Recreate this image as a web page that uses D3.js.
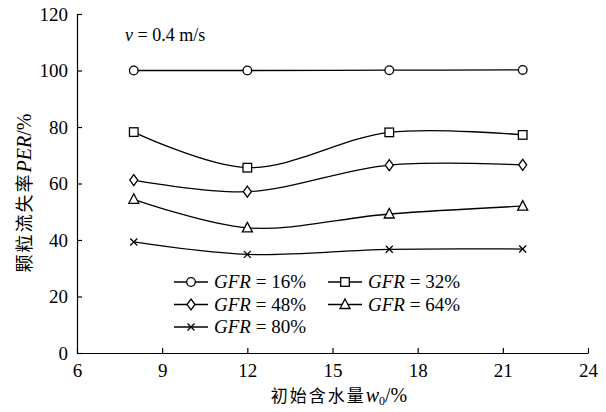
<!DOCTYPE html>
<html>
<head>
<meta charset="utf-8">
<script src="https://cdn.jsdelivr.net/npm/d3@7"></script>
<style>
  body { margin: 0; background: #fff; }
  .axis path, .axis line { stroke: #000; stroke-width: 1.2; }
</style>
</head>
<body>
<div id="chart"></div>
<script>
        var xValues = [8, 12, 17, 21.7];
        var gfr16 = [100, 100, 100.1, 100.2];
        var gfr32 = [78.2, 65.6, 78.1, 77.2];
        var gfr48 = [61.2, 57.1, 66.5, 66.6];
        var gfr64 = [54.4, 44.3, 49.2, 52.0];
        var gfr80 = [39.3, 34.9, 36.7, 36.8];
        var seriesNames = ["16%", "32%", "48%", "64%", "80%"];
        var xTicks = [6, 9, 12, 15, 18, 21, 24];
        var yTicks = [0, 20, 40, 60, 80, 100, 120];

        var serif = "'Liberation Serif', 'Times New Roman', serif";
        var cjk = "'Noto Sans CJK SC', sans-serif";

        var width = 606;
        var height = 412;
        var margin = {left: 77, top: 14, right: 18, bottom: 59};

        var svg = d3.select("#chart")
                    .append("svg")
                    .attr("width", width)
                    .attr("height", height)
                    .style("font-family", serif);

        var x = d3.scaleLinear().domain([6, 24]).range([margin.left, width - margin.right]);
        var y = d3.scaleLinear().domain([0, 120]).range([height - margin.bottom, margin.top]);

        var series = [
            {name: seriesNames[0], values: gfr16, marker: "circle"},
            {name: seriesNames[1], values: gfr32, marker: "square"},
            {name: seriesNames[2], values: gfr48, marker: "diamond"},
            {name: seriesNames[3], values: gfr64, marker: "triangle"},
            {name: seriesNames[4], values: gfr80, marker: "cross"}
        ];

        function styleTicks(g){
            g.attr("font-family", null).attr("font-size", null);
            g.selectAll("text")
                .style("font-family", serif)
                .style("font-size", "19px")
                .attr("fill", "#000");
        }

        // axes with inward ticks
        svg.append("g")
            .attr("class", "axis")
            .attr("transform", "translate(0," + y(0) + ")")
            .call(d3.axisBottom(x).tickValues(xTicks).tickSizeInner(-5).tickSizeOuter(0).tickPadding(11))
            .call(styleTicks);

        svg.append("g")
            .attr("class", "axis")
            .attr("transform", "translate(" + x(6) + ",0)")
            .call(d3.axisLeft(y).tickValues(yTicks).tickSizeInner(-5).tickSizeOuter(0).tickPadding(9))
            .call(styleTicks);

        var line = d3.line()
            .x(function(d, i){ return x(xValues[i]); })
            .y(function(d){ return y(d); })
            .curve(d3.curveCatmullRom.alpha(0.5));

        function drawMarker(g, type, cx, cy) {
            var m;
            if (type == "circle") {
                m = g.append("circle").attr("cx", cx).attr("cy", cy).attr("r", 4.3);
            } else if (type == "square") {
                m = g.append("rect").attr("x", cx - 4.3).attr("y", cy - 4.3).attr("width", 8.6).attr("height", 8.6);
            } else if (type == "diamond") {
                m = g.append("path").attr("d", "M" + cx + "," + (cy - 5.5) + "L" + (cx + 4) + "," + cy + "L" + cx + "," + (cy + 5.5) + "L" + (cx - 4) + "," + cy + "Z");
            } else if (type == "triangle") {
                m = g.append("path").attr("d", "M" + cx + "," + (cy - 5.5) + "L" + (cx + 5) + "," + (cy + 4) + "L" + (cx - 5) + "," + (cy + 4) + "Z");
            } else {
                m = g.append("path").attr("d", "M" + (cx - 3.5) + "," + (cy - 3.5) + "L" + (cx + 3.5) + "," + (cy + 3.5) + "M" + (cx + 3.5) + "," + (cy - 3.5) + "L" + (cx - 3.5) + "," + (cy + 3.5));
            }
            m.attr("fill", "#fff").attr("stroke", "#000").attr("stroke-width", 1.3);
        }

        var plot = svg.append("g");
        series.forEach(function(s){
            plot.append("path")
                .attr("d", line(s.values))
                .attr("fill", "none")
                .attr("stroke", "#000")
                .attr("stroke-width", 1.3);
            s.values.forEach(function(v, i){
                drawMarker(plot, s.marker, x(xValues[i]), y(v));
            });
        });

        // legend
        var legendPos = [
            [174, 282], [328, 282],
            [174, 304.5], [328, 304.5],
            [174, 327]
        ];
        var legend = svg.append("g");
        series.forEach(function(s, i){
            var lx = legendPos[i][0], ly = legendPos[i][1];
            legend.append("line")
                .attr("x1", lx).attr("x2", lx + 34)
                .attr("y1", ly).attr("y2", ly)
                .attr("stroke", "#000").attr("stroke-width", 1.3);
            drawMarker(legend, s.marker, lx + 17, ly);
            var t = legend.append("text")
                .attr("x", lx + 40).attr("y", ly + 6)
                .style("font-size", "19px");
            t.append("tspan").style("font-style", "italic").text("GFR");
            t.append("tspan").text(" = " + s.name);
        });

        // speed annotation
        var ann = svg.append("text").attr("x", 125).attr("y", 41).style("font-size", "18px");
        ann.append("tspan").style("font-style", "italic").text("v");
        ann.append("tspan").text(" = 0.4 m/s");

        // axis titles
        var xt = svg.append("text")
            .attr("x", 339).attr("y", 402)
            .attr("text-anchor", "middle")
            .style("font-size", "20px");
        xt.append("tspan").style("font-family", cjk).style("font-size", "17px").style("letter-spacing", "2px").text("初始含水量");
        xt.append("tspan").style("font-style", "italic").text("w");
        xt.append("tspan").attr("baseline-shift", "-25%").style("font-size", "12px").text("0");
        xt.append("tspan").text("/%");

        var yt = svg.append("text")
            .attr("transform", "translate(31," + 193 + ") rotate(-90)")
            .attr("text-anchor", "middle")
            .style("font-size", "20px");
        yt.append("tspan").style("font-family", cjk).style("font-size", "18px").style("letter-spacing", "2px").text("颗粒流失率");
        yt.append("tspan").style("font-style", "italic").text("PER");
        yt.append("tspan").text("/%");
</script>
</body>
</html>
